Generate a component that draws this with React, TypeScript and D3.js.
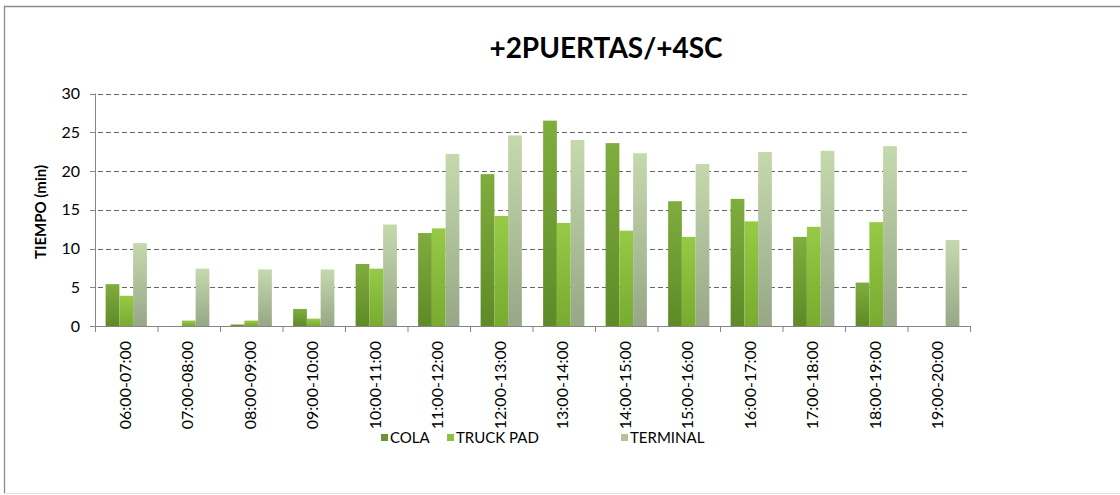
import React from "react";
import * as d3 from "d3";

const categories = [
  "06:00-07:00", "07:00-08:00", "08:00-09:00", "09:00-10:00", "10:00-11:00",
  "11:00-12:00", "12:00-13:00", "13:00-14:00", "14:00-15:00", "15:00-16:00",
  "16:00-17:00", "17:00-18:00", "18:00-19:00", "19:00-20:00",
];
const seriesNames = ["COLA", "TRUCK PAD", "TERMINAL"];
const cola = [5.4, 0, 0.2, 2.2, 8.0, 12.0, 19.6, 26.5, 23.6, 16.1, 16.4, 11.5, 5.6, 0];
const truckPad = [3.9, 0.7, 0.7, 0.95, 7.4, 12.6, 14.2, 13.3, 12.3, 11.5, 13.5, 12.8, 13.4, 0];
const terminal = [10.7, 7.4, 7.3, 7.3, 13.1, 22.2, 24.6, 24.0, 22.3, 20.9, 22.45, 22.6, 23.2, 11.1];
const yTicks = [0, 5, 10, 15, 20, 25, 30];
const title = "+2PUERTAS/+4SC";
const yLabel = "TIEMPO (min)";

const values = [cola, truckPad, terminal];
const gradients = [
  ["#80ad3e", "#5e8a27"],
  ["#96ca46", "#78ab2f"],
  ["#c5d9ad", "#97a787"],
];
const legendColors = ["#6a9632", "#8fc03e", "#b3c49d"];

const FONT = "Lato, 'Open Sans', sans-serif";

export default function App() {
  const W = 1120, H = 495;
  const left = 95, right = 970, y0 = 326, yTop = 93.5;
  const x = d3.scaleBand<string>().domain(categories).range([left, right]).paddingInner(0.34).paddingOuter(0.17);
  const x1 = d3.scaleBand<string>().domain(seriesNames).range([0, x.bandwidth()]);
  const y = d3.scaleLinear().domain([0, 30]).range([y0, yTop]);
  const step = x.step();
  const boundaries = d3.range(categories.length + 1).map((i) => left + i * step);

  const legendX = [381, 447, 621];

  return (
    <div style={{ position: "absolute", left: 0, top: 0, width: W, height: H, overflow: "hidden" }}>
      <svg width={W} height={H} style={{ display: "block" }} fontFamily={FONT}>
        <defs>
          {gradients.map((g, i) => (
            <linearGradient key={i} id={`g${i}`} x1="0" y1="0" x2="0" y2="1">
              <stop offset="0%" stopColor={g[0]} />
              <stop offset="100%" stopColor={g[1]} />
            </linearGradient>
          ))}
        </defs>
        <rect x={0} y={0} width={W} height={H} fill="#fff" />
        <line x1={4} x2={W} y1={6.5} y2={6.5} stroke="#8a8a8a" strokeWidth={1.3} />
        <line x1={4.5} x2={4.5} y1={6} y2={493} stroke="#8a8a8a" strokeWidth={1.3} />
        <line x1={4} x2={W} y1={493.5} y2={493.5} stroke="#e2e2e2" strokeWidth={1} />
        <text x={606} y={58} textAnchor="middle" fontSize={28} fontWeight="bold" fill="#000">{title}</text>

        {/* gridlines */}
        {yTicks.filter((t) => t > 0).map((t) => (
          <line key={t} x1={90} x2={right} y1={Math.round(y(t)) + 0.5} y2={Math.round(y(t)) + 0.5}
            stroke="#666" strokeDasharray="5,3" strokeWidth={1} />
        ))}

        {/* bars */}
        {values.map((vals, si) =>
          vals.map((v, ci) => v > 0 ? (
            <rect key={`${si}-${ci}`} x={(x(categories[ci]) ?? 0) + (x1(seriesNames[si]) ?? 0)}
              y={y(v)} width={x1.bandwidth()} height={y0 - y(v)} fill={`url(#g${si})`} />
          ) : null)
        )}

        {/* axes */}
        <line x1={left + 0.5} x2={left + 0.5} y1={yTop} y2={y0} stroke="#868686" />
        <line x1={left} x2={right} y1={y0 + 0.5} y2={y0 + 0.5} stroke="#868686" />
        {yTicks.map((t) => (
          <g key={t}>
            <line x1={90} x2={left} y1={Math.round(y(t)) + 0.5} y2={Math.round(y(t)) + 0.5} stroke="#868686" />
            <text x={80} y={y(t)} dy="0.35em" textAnchor="end" fontSize={16} fill="#000">{t}</text>
          </g>
        ))}
        {boundaries.map((b, i) => (
          <line key={i} x1={b + 0.5} x2={b + 0.5} y1={y0} y2={y0 + 6} stroke="#868686" />
        ))}
        {categories.map((c) => {
          const cx = (x(c) ?? 0) + x.bandwidth() / 2;
          return (
            <text key={c} transform={`translate(${cx - 1},341) rotate(-90)`} textAnchor="end" dy="0.35em"
              fontSize={16} fill="#000">{c}</text>
          );
        })}
        <text transform="translate(41,212) rotate(-90)" textAnchor="middle" dy="0.35em" fontSize={15}
          fontWeight="bold" fill="#000">{yLabel}</text>

        {/* legend */}
        {seriesNames.map((s, i) => (
          <g key={s}>
            <rect x={legendX[i]} y={434} width={7} height={7} fill={legendColors[i]} />
            <text x={legendX[i] + 9} y={438} dy="0.35em" fontSize={15} fill="#000">{s}</text>
          </g>
        ))}
      </svg>
    </div>
  );
}
